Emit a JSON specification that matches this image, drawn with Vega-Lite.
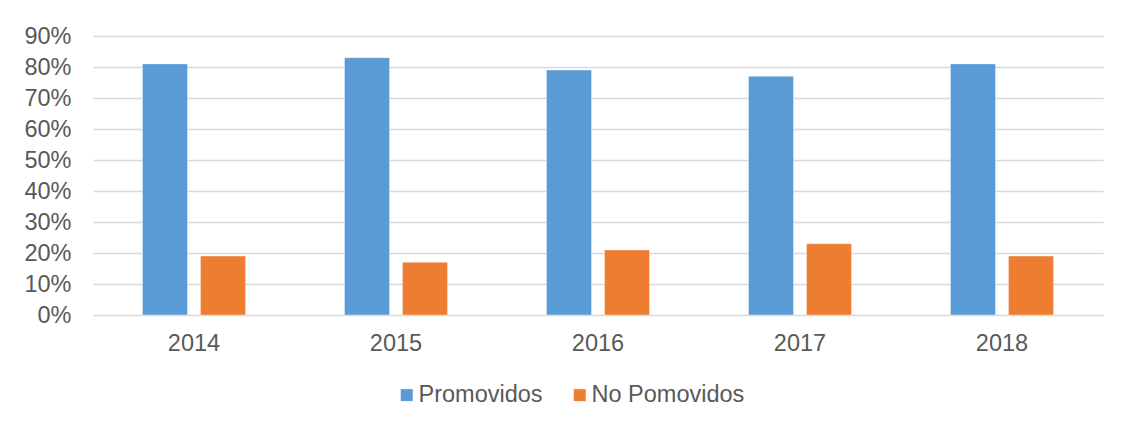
{
  "$schema": "https://vega.github.io/schema/vega-lite/v6.json",
  "autosize": "none",
  "width": 1010,
  "height": 279,
  "padding": {"left": 93, "top": 36, "right": 19, "bottom": 112},
  "background": "white",
  "data": {"values": [
    {"year": "2014", "serie": "Promovidos", "valor": 0.81},
    {"year": "2014", "serie": "No Pomovidos", "valor": 0.19},
    {"year": "2015", "serie": "Promovidos", "valor": 0.83},
    {"year": "2015", "serie": "No Pomovidos", "valor": 0.17},
    {"year": "2016", "serie": "Promovidos", "valor": 0.79},
    {"year": "2016", "serie": "No Pomovidos", "valor": 0.21},
    {"year": "2017", "serie": "Promovidos", "valor": 0.77},
    {"year": "2017", "serie": "No Pomovidos", "valor": 0.23},
    {"year": "2018", "serie": "Promovidos", "valor": 0.81},
    {"year": "2018", "serie": "No Pomovidos", "valor": 0.19}
  ]},
  "mark": {"type": "bar", "stroke": "white", "strokeOpacity": 0.35, "strokeWidth": 1},
  "encoding": {
    "x": {
      "field": "year", "type": "nominal",
      "scale": {"paddingInner": 0.49, "paddingOuter": 0.245},
      "axis": {"title": null, "labelAngle": 0, "labelFont": "Liberation Sans", "labelFontSize": 23.5, "labelColor": "#595959", "labelPadding": 16, "ticks": false, "domain": false}
    },
    "xOffset": {
      "field": "serie", "type": "nominal",
      "sort": ["Promovidos", "No Pomovidos"],
      "scale": {"paddingInner": 0.224, "paddingOuter": 0}
    },
    "y": {
      "field": "valor", "type": "quantitative",
      "scale": {"domain": [0, 0.9], "nice": false},
      "axis": {"title": null, "format": ".0%", "values": [0, 0.1, 0.2, 0.3, 0.4, 0.5, 0.6, 0.7, 0.8, 0.9], "labelOverlap": false, "labelFont": "Liberation Sans", "labelFontSize": 23.5, "labelColor": "#595959", "labelPadding": 22, "ticks": false, "domain": false, "gridColor": "#d9d9d9", "gridWidth": 1.3}
    },
    "color": {
      "field": "serie", "type": "nominal",
      "sort": ["Promovidos", "No Pomovidos"],
      "scale": {"domain": ["Promovidos", "No Pomovidos"], "range": ["#5b9bd5", "#ed7d31"]},
      "legend": {"title": null, "orient": "none", "legendX": 302, "legendY": 347, "direction": "horizontal", "symbolType": "square", "symbolSize": 144, "symbolStrokeWidth": 0, "labelFont": "Liberation Sans", "labelFontSize": 23.5, "labelColor": "#595959", "labelOffset": 0, "columnPadding": 25, "symbolOffset": 0}
    }
  },
  "config": {"view": {"stroke": null}}
}
